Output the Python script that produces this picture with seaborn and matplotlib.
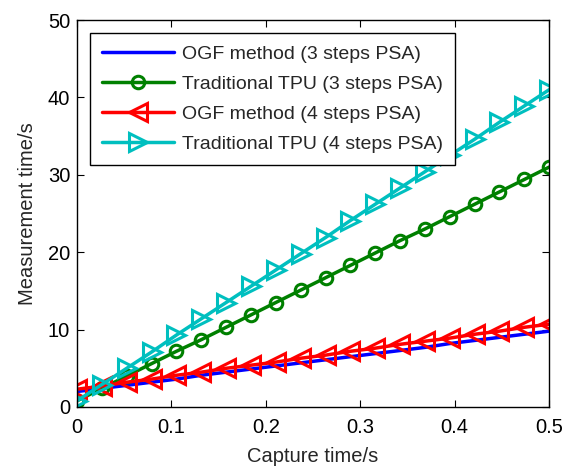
import numpy as np
import pandas as pd
import matplotlib
matplotlib.use("Agg")
import matplotlib.pyplot as plt
import seaborn as sns

capture_time = [0.0, 0.0263, 0.0526, 0.0789, 0.1053, 0.1316, 0.1579, 0.1842, 0.2105, 0.2368,
                0.2632, 0.2895, 0.3158, 0.3421, 0.3684, 0.3947, 0.4211, 0.4474, 0.4737, 0.5]
ogf_3 = [2.0, 2.4, 2.8, 3.2, 3.6, 4.1, 4.5, 4.9, 5.3, 5.7,
         6.1, 6.5, 6.9, 7.3, 7.7, 8.2, 8.6, 9.0, 9.4, 9.8]
tpu_3 = [0.8, 2.4, 4.0, 5.6, 7.2, 8.7, 10.3, 11.9, 13.5, 15.1,
         16.7, 18.3, 19.9, 21.5, 23.0, 24.6, 26.2, 27.8, 29.4, 31.0]
ogf_4 = [2.3, 2.7, 3.2, 3.6, 4.1, 4.5, 5.0, 5.4, 5.8, 6.3,
         6.7, 7.2, 7.6, 8.1, 8.5, 8.9, 9.4, 9.8, 10.3, 10.7]
tpu_4 = [0.8, 2.9, 5.0, 7.1, 9.3, 11.4, 13.5, 15.6, 17.7, 19.8,
         21.9, 24.1, 26.2, 28.3, 30.4, 32.5, 34.6, 36.8, 38.9, 41.0]
labels = ["OGF method (3 steps PSA)", "Traditional TPU (3 steps PSA)",
          "OGF method (4 steps PSA)", "Traditional TPU (4 steps PSA)"]
x_ticks = [0, 0.1, 0.2, 0.3, 0.4, 0.5]
x_tick_labels = ["0", "0.1", "0.2", "0.3", "0.4", "0.5"]
y_ticks = [0, 10, 20, 30, 40, 50]

sns.set_style("ticks")
plt.rcParams['font.family'] = ['Liberation Sans', 'DejaVu Sans']

fig = plt.figure(figsize=(5.75, 4.67), dpi=100)
ax = fig.add_axes([0.134, 0.1285, 0.821, 0.8285])

series = [
    (ogf_3, "#0000ff", None, 0),
    (tpu_3, "#008000", "o", 9),
    (ogf_4, "#ff0000", "<", 12.5),
    (tpu_4, "#00bfbf", ">", 12.5),
]
for (vals, color, marker, ms), lab in zip(series, labels):
    df = pd.DataFrame({"x": capture_time, "y": vals})
    kw = dict(marker=marker, markersize=ms, markerfacecolor="none",
              markeredgecolor=color, markeredgewidth=2.2) if marker else {}
    sns.lineplot(data=df, x="x", y="y", ax=ax, color=color, linewidth=2.5,
                 label=lab, **kw)

ax.set_xlim(0, 0.5)
ax.set_ylim(0, 50)
ax.set_xticks(x_ticks)
ax.set_xticklabels(x_tick_labels)
ax.set_yticks(y_ticks)
ax.tick_params(direction="in", top=True, right=True, labelsize=14.5, length=5,
               width=0.8, colors="black")
ax.tick_params(axis="x", pad=8)
ax.tick_params(axis="y", pad=5)
for sp in ax.spines.values():
    sp.set_visible(True)
    sp.set_color("black")
    sp.set_linewidth(1.0)
ax.set_xlabel("Capture time/s", fontsize=14.5, labelpad=7)
ax.set_ylabel("Measurement time/s", fontsize=14.5, labelpad=8)

leg = ax.legend(loc="upper left", bbox_to_anchor=(0.0275, 0.966), fontsize=14,
                frameon=True, fancybox=False, edgecolor="black", framealpha=1,
                handlelength=3.7, labelspacing=0.65, borderpad=0.6,
                borderaxespad=0, handletextpad=0.45, numpoints=1)
leg.get_frame().set_linewidth(1.0)

fig.savefig("out.png", dpi=100)
